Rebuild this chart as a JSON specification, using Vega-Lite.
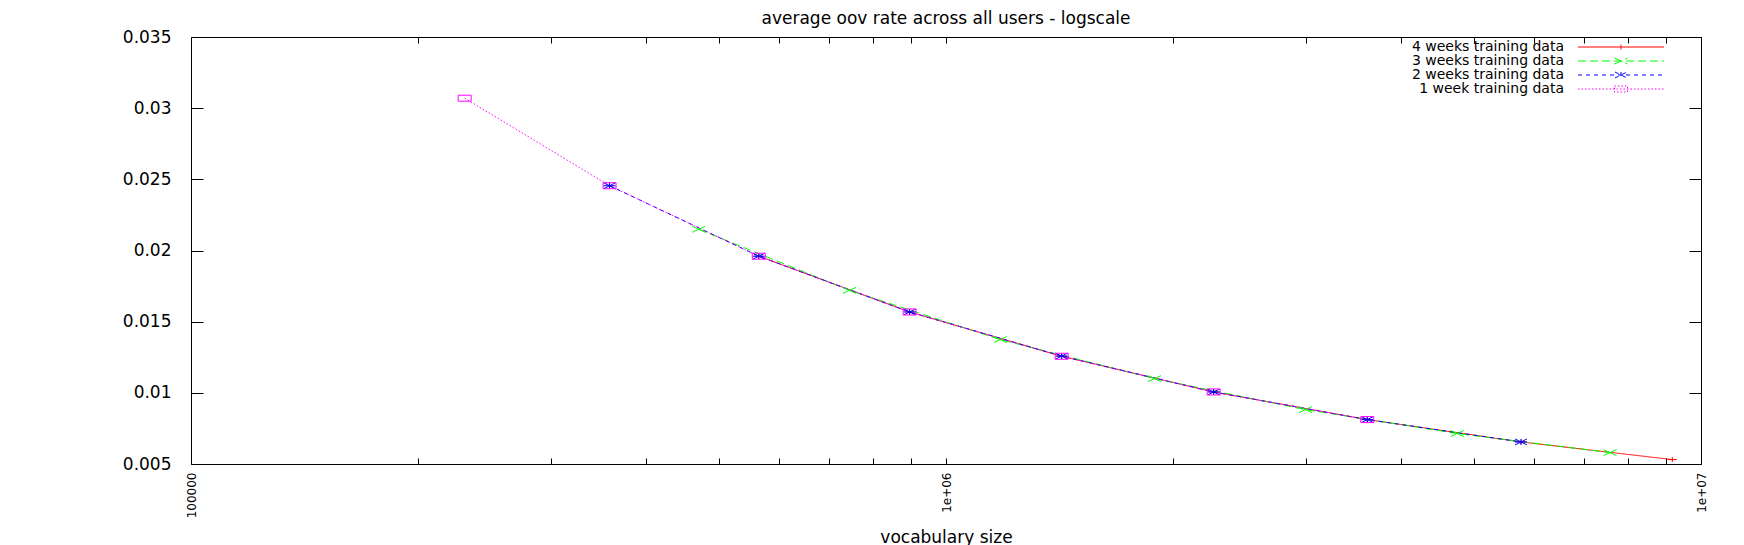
{
  "$schema": "https://vega.github.io/schema/vega-lite/v6.json",
  "width": 1510,
  "height": 427,
  "autosize": {"type": "none"},
  "padding": {"left": 191, "top": 37, "right": 43, "bottom": 81},
  "background": "white",
  "config": {
    "font": "DejaVu Sans",
    "view": {"stroke": "black", "strokeWidth": 1}
  },
  "title": {
    "text": "average oov rate across all users - logscale",
    "font": "DejaVu Sans",
    "fontSize": 17,
    "fontWeight": "normal",
    "color": "black",
    "anchor": "middle",
    "frame": "group",
    "offset": 0
  },
  "data": {
    "values": [
      {"series": "4 weeks training data", "vocab": 565000, "oov": 0.0196},
      {"series": "4 weeks training data", "vocab": 895000, "oov": 0.01568},
      {"series": "4 weeks training data", "vocab": 1423000, "oov": 0.01257},
      {"series": "4 weeks training data", "vocab": 2262000, "oov": 0.01006},
      {"series": "4 weeks training data", "vocab": 3614000, "oov": 0.00812},
      {"series": "4 weeks training data", "vocab": 5776000, "oov": 0.00655},
      {"series": "4 weeks training data", "vocab": 9162000, "oov": 0.00531},
      {"series": "3 weeks training data", "vocab": 470600, "oov": 0.02149},
      {"series": "3 weeks training data", "vocab": 745000, "oov": 0.0172},
      {"series": "3 weeks training data", "vocab": 1180000, "oov": 0.01374},
      {"series": "3 weeks training data", "vocab": 1888000, "oov": 0.0110},
      {"series": "3 weeks training data", "vocab": 2993000, "oov": 0.00882},
      {"series": "3 weeks training data", "vocab": 4756000, "oov": 0.00714},
      {"series": "3 weeks training data", "vocab": 7578000, "oov": 0.0058},
      {"series": "2 weeks training data", "vocab": 358400, "oov": 0.02455},
      {"series": "2 weeks training data", "vocab": 565000, "oov": 0.0196},
      {"series": "2 weeks training data", "vocab": 895000, "oov": 0.01568},
      {"series": "2 weeks training data", "vocab": 1423000, "oov": 0.01258},
      {"series": "2 weeks training data", "vocab": 2262000, "oov": 0.01006},
      {"series": "2 weeks training data", "vocab": 3614000, "oov": 0.00812},
      {"series": "2 weeks training data", "vocab": 5776000, "oov": 0.00655},
      {"series": "1 week training data", "vocab": 230400, "oov": 0.0307},
      {"series": "1 week training data", "vocab": 358400, "oov": 0.02455},
      {"series": "1 week training data", "vocab": 565000, "oov": 0.0196},
      {"series": "1 week training data", "vocab": 895000, "oov": 0.01568},
      {"series": "1 week training data", "vocab": 1423000, "oov": 0.01257},
      {"series": "1 week training data", "vocab": 2262000, "oov": 0.01006},
      {"series": "1 week training data", "vocab": 3614000, "oov": 0.00812}
    ]
  },
  "layer": [
    {
      "mark": {"type": "line", "strokeWidth": 1},
      "encoding": {
        "x": {
          "field": "vocab",
          "type": "quantitative",
          "scale": {"type": "log", "domain": [100000, 10000000], "nice": false},
          "axis": {
            "orient": "bottom",
            "values": [100000, 200000, 300000, 400000, 500000, 600000, 700000, 800000, 900000, 1000000, 2000000, 3000000, 4000000, 5000000, 6000000, 7000000, 8000000, 9000000, 10000000],
            "domain": false,
            "grid": false,
            "tickSize": -6,
            "tickColor": "black",
            "tickWidth": 1,
            "labelExpr": "datum.value == 100000 ? '100000' : datum.value == 1000000 ? '1e+06' : datum.value == 10000000 ? '1e+07' : ''",
            "labelAngle": 270,
            "labelAlign": "right",
            "labelBaseline": "middle",
            "labelFont": "DejaVu Sans",
            "labelFontSize": 12,
            "labelColor": "black",
            "labelPadding": 14,
            "labelFlush": false,
            "labelOverlap": false,
            "title": "vocabulary size",
            "titleFont": "DejaVu Sans",
            "titleFontSize": 17,
            "titleFontWeight": "normal",
            "titleColor": "black",
            "titleY": 73,
            "titleBaseline": "middle",
            "encode": {
              "ticks": {
                "update": {
                  "y2": {"signal": "(datum.value == 100000 || datum.value == 1000000 || datum.value == 10000000) ? -6 : -3"}
                }
              }
            }
          }
        },
        "y": {
          "field": "oov",
          "type": "quantitative",
          "scale": {"domain": [0.005, 0.035], "nice": false, "zero": false},
          "axis": {
            "orient": "left",
            "values": [0.005, 0.01, 0.015, 0.02, 0.025, 0.03, 0.035],
            "format": ".3~f",
            "domain": false,
            "grid": false,
            "tickSize": -12,
            "tickColor": "black",
            "tickWidth": 1,
            "labelFont": "DejaVu Sans",
            "labelFontSize": 17,
            "labelColor": "black",
            "labelPadding": 32,
            "labelFlush": false,
            "labelOverlap": false,
            "title": null
          }
        },
        "color": {
          "field": "series",
          "type": "nominal",
          "scale": {
            "domain": ["4 weeks training data", "3 weeks training data", "2 weeks training data", "1 week training data"],
            "range": ["#ff0000", "#00ff00", "#0000ff", "#ff00ff"]
          },
          "legend": {
            "title": null,
            "orient": "none",
            "legendX": 1423,
            "legendY": 3,
            "labelAlign": "right",
            "labelOffset": -64,
            "labelFont": "DejaVu Sans",
            "labelFontSize": 14,
            "labelColor": "black",
            "labelLimit": 400,
            "rowPadding": 0,
            "padding": 0,
            "symbolSize": 4,
            "encode": {
              "symbols": {
                "update": {
                  "shape": {"signal": "datum.value === '4 weeks training data' ? 'M-43,0L43,0M0,-2.5L0,2.5' : datum.value === '3 weeks training data' ? 'M-43,0L43,0M-6.5,-3L6.5,3M-6.5,3L6.5,-3' : datum.value === '2 weeks training data' ? 'M-43,0L43,0M-6,-3L6,3M-6,3L6,-3M0,-3L0,3' : 'M-43,0L43,0M-6.5,-3L6.5,-3L6.5,3L-6.5,3Z'"},
                  "strokeDash": {"signal": "datum.value === '4 weeks training data' ? [1,0] : datum.value === '3 weeks training data' ? [8,4] : datum.value === '2 weeks training data' ? [4,4] : [1.5,2]"},
                  "fill": {"value": "transparent"},
                  "fillOpacity": {"value": 0},
                  "strokeWidth": {"value": 1},
                  "opacity": {"value": 1},
                  "size": {"value": 4}
                }
              }
            }
          }
        },
        "strokeDash": {
          "field": "series",
          "type": "nominal",
          "scale": {
            "domain": ["4 weeks training data", "3 weeks training data", "2 weeks training data", "1 week training data"],
            "range": [[1, 0], [8, 4], [4, 4], [1.5, 2]]
          },
          "legend": null
        }
      }
    },
    {
      "transform": [{"filter": "datum.series === '4 weeks training data'"}],
      "mark": {"type": "point", "shape": "M-4.5,0L4.5,0M0,-2.5L0,2.5", "filled": false, "color": "#ff0000", "strokeWidth": 1, "size": 4, "opacity": 1},
      "encoding": {
        "x": {
          "field": "vocab",
          "type": "quantitative",
          "scale": {"type": "log", "domain": [100000, 10000000], "nice": false},
          "axis": {
            "orient": "top",
            "values": [100000, 200000, 300000, 400000, 500000, 600000, 700000, 800000, 900000, 1000000, 2000000, 3000000, 4000000, 5000000, 6000000, 7000000, 8000000, 9000000, 10000000],
            "domain": false,
            "grid": false,
            "labels": false,
            "tickSize": -6,
            "tickColor": "black",
            "tickWidth": 1,
            "title": null,
            "encode": {
              "ticks": {
                "update": {
                  "y2": {"signal": "(datum.value == 100000 || datum.value == 1000000 || datum.value == 10000000) ? 6 : 3"}
                }
              }
            }
          }
        },
        "y": {
          "field": "oov",
          "type": "quantitative",
          "scale": {"domain": [0.005, 0.035], "nice": false, "zero": false},
          "axis": {
            "orient": "right",
            "values": [0.005, 0.01, 0.015, 0.02, 0.025, 0.03, 0.035],
            "domain": false,
            "grid": false,
            "labels": false,
            "tickSize": -12,
            "tickColor": "black",
            "tickWidth": 1,
            "title": null
          }
        }
      }
    },
    {
      "transform": [{"filter": "datum.series === '3 weeks training data'"}],
      "mark": {"type": "point", "shape": "M-6.5,-3L6.5,3M-6.5,3L6.5,-3", "filled": false, "color": "#00ff00", "strokeWidth": 1, "size": 4, "opacity": 1},
      "encoding": {
        "x": {"field": "vocab", "type": "quantitative", "axis": null},
        "y": {"field": "oov", "type": "quantitative", "axis": null}
      }
    },
    {
      "transform": [{"filter": "datum.series === '2 weeks training data'"}],
      "mark": {"type": "point", "shape": "M-6,-3L6,3M-6,3L6,-3M-6,0L6,0M0,-3L0,3", "filled": false, "color": "#0000ff", "strokeWidth": 1, "size": 4, "opacity": 1},
      "encoding": {
        "x": {"field": "vocab", "type": "quantitative", "axis": null},
        "y": {"field": "oov", "type": "quantitative", "axis": null}
      }
    },
    {
      "transform": [{"filter": "datum.series === '1 week training data'"}],
      "mark": {"type": "point", "shape": "M-6.5,-3L6.5,-3L6.5,3L-6.5,3Z", "filled": false, "color": "#ff00ff", "strokeWidth": 1, "size": 4, "opacity": 1},
      "encoding": {
        "x": {"field": "vocab", "type": "quantitative", "axis": null},
        "y": {"field": "oov", "type": "quantitative", "axis": null}
      }
    }
  ],
  "resolve": {"axis": {"x": "independent", "y": "independent"}}
}
